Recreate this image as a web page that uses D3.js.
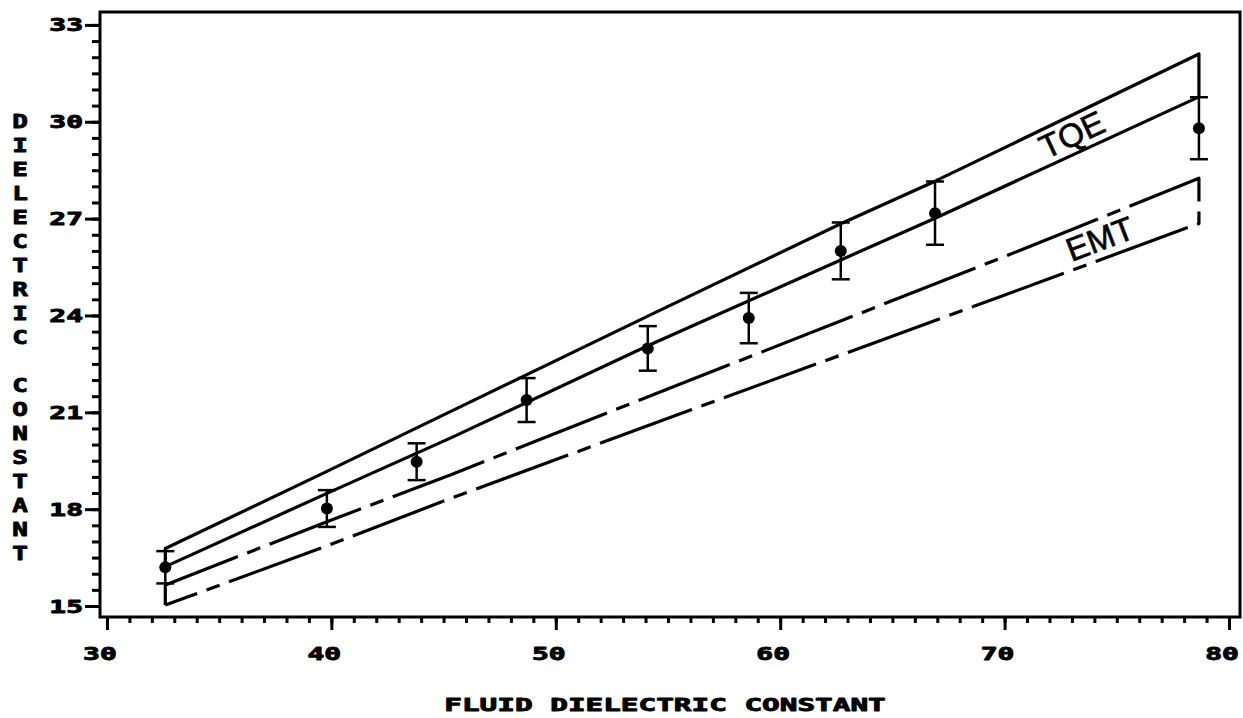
<!DOCTYPE html>
<html>
<head>
<meta charset="utf-8">
<script src="https://cdn.jsdelivr.net/npm/d3@7"></script>
<style>
  body { margin: 0; background: #fff; }
  svg { display: block; }
  .plotfont { font-family: "DejaVu Sans Mono", monospace; font-weight: bold; fill: #000;
              stroke: #000; stroke-width: 0.9; stroke-linejoin: round; }
</style>
</head>
<body>
<svg id="chart" width="1243" height="718"></svg>
<script>
// Measured dielectric constant of the saturated sample vs. fluid dielectric constant
const fluidEps    = [32.6, 39.8, 43.8, 48.7, 54.1, 58.6, 62.7, 66.9, 78.66];
const measuredEps = [16.2, 18.02, 19.47, 21.38, 22.98, 23.92, 26.0, 27.17, 29.8];
const measuredErr = [0.5, 0.57, 0.57, 0.68, 0.69, 0.78, 0.88, 0.98, 0.96];

// TQE prediction band (upper and lower bounds)
const tqeX     = [32.6, 39.8, 45.3, 54.1, 62.7, 66.9, 78.66];
const tqeUpper = [16.78, 19.17, 21.02, 23.98, 26.84, 28.16, 32.1];
const tqeLower = [16.22, 18.49, 20.20, 23.06, 25.72, 27.01, 30.77];

// EMT prediction band (upper and lower bounds)
const emtX     = [32.6, 39.8, 45.3, 56.0, 69.8, 78.66];
const emtUpper = [15.65, 17.61, 19.06, 22.0, 25.77, 28.25];
const emtLower = [15.03, 16.86, 18.33, 21.07, 24.58, 26.85];

// Axis ticks and labels
const xMajorTicks = [30, 40, 50, 60, 70, 80];
const yMajorTicks = [15, 18, 21, 24, 27, 30, 33];
const xTitle = "FLUID DIELECTRIC CONSTANT";
const yTitle = "DIELECTRIC CONSTANT";
const bandLabels = ["TQE", "EMT"];

const svg = d3.select("#chart");
const frame = { left: 100, top: 12, right: 1240, bottom: 617 };

const x = d3.scaleLinear().domain([29.69, 80.49]).range([frame.left, frame.right]);
const y = d3.scaleLinear().domain([14.66, 33.40]).range([frame.bottom, frame.top]);

// plot frame
svg.append("rect")
  .attr("x", frame.left).attr("y", frame.top)
  .attr("width", frame.right - frame.left).attr("height", frame.bottom - frame.top)
  .attr("fill", "none").attr("stroke", "#000").attr("stroke-width", 3);

// x axis ticks (minor every 1, major every 10)
const xMinor = d3.range(30, 81, 1);
const xAxisMinor = d3.axisBottom(x).tickValues(xMinor).tickSize(6).tickFormat("");
const xAxisMajor = d3.axisBottom(x).tickValues(xMajorTicks).tickSize(13).tickFormat("");
[xAxisMinor, xAxisMajor].forEach(ax => {
  const g = svg.append("g").attr("transform", `translate(0,${frame.bottom})`).call(ax);
  g.select(".domain").remove();
  g.selectAll("line").attr("stroke", "#000").attr("stroke-width", 3);
});

// y axis ticks (minor every 0.5, major every 3)
const yMinor = d3.range(15, 33.01, 0.5);
const yAxisMinor = d3.axisLeft(y).tickValues(yMinor).tickSize(8).tickFormat("");
const yAxisMajor = d3.axisLeft(y).tickValues(yMajorTicks).tickSize(15).tickFormat("");
[yAxisMinor, yAxisMajor].forEach(ax => {
  const g = svg.append("g").attr("transform", `translate(${frame.left},0)`).call(ax);
  g.select(".domain").remove();
  g.selectAll("line").attr("stroke", "#000").attr("stroke-width", 3);
});

// stretched plotter-style label helper
function wideText(parent, str, px, py, size, sx, anchor) {
  return parent.append("text")
    .attr("class", "plotfont")
    .attr("transform", `translate(${px},${py}) scale(${sx},1)`)
    .attr("font-size", size)
    .attr("text-anchor", anchor)
    .text(str);
}

// x tick labels
xMajorTicks.forEach(v => wideText(svg, String(v), x(v) - 7, 660, 17.5, 1.6, "middle"));
// y tick labels
yMajorTicks.forEach(v => wideText(svg, String(v), 83, y(v) + 6.5, 17.5, 1.6, "end"));

// axis titles
wideText(svg, xTitle, 665, 711, 18, 1.63, "middle");
yTitle.split("").forEach((ch, i) => {
  if (ch !== " ") wideText(svg, ch, 20, 128 + 24 * i, 20, 1.3, "middle");
});

// closed band outline: start at lower-left, up, along upper, down, back along lower
function bandPath(xs, upper, lower) {
  const pts = [[xs[0], lower[0]]];
  xs.forEach((v, i) => pts.push([v, upper[i]]));
  for (let i = xs.length - 1; i >= 0; i--) pts.push([xs[i], lower[i]]);
  return d3.line().x(d => x(d[0])).y(d => y(d[1]))(pts);
}

svg.append("path")
  .attr("d", bandPath(tqeX, tqeUpper, tqeLower))
  .attr("fill", "none").attr("stroke", "#000").attr("stroke-width", 3.2)
  .attr("stroke-linejoin", "round");

svg.append("path")
  .attr("d", bandPath(emtX, emtUpper, emtLower))
  .attr("fill", "none").attr("stroke", "#000").attr("stroke-width", 3.2)
  .attr("stroke-dasharray", "98,10,14,10")
  .attr("stroke-linejoin", "round");

// error bars and data points
const pts = fluidEps.map((v, i) => ({ x: v, y: measuredEps[i], e: measuredErr[i] }));
const eb = svg.append("g").attr("stroke", "#000").attr("stroke-width", 2.5);
pts.forEach(d => {
  eb.append("line").attr("x1", x(d.x)).attr("x2", x(d.x))
    .attr("y1", y(d.y - d.e)).attr("y2", y(d.y + d.e));
  [d.y - d.e, d.y + d.e].forEach(v => {
    eb.append("line").attr("x1", x(d.x) - 9).attr("x2", x(d.x) + 9)
      .attr("y1", y(v)).attr("y2", y(v));
  });
});
svg.append("g").selectAll("circle").data(pts).join("circle")
  .attr("cx", d => x(d.x)).attr("cy", d => y(d.y)).attr("r", 6).attr("fill", "#000");

// band labels, rotated along each band
function bandAngle(xs, upper, lower) {
  const n = xs.length - 1;
  const a0 = (upper[0] + lower[0]) / 2, a1 = (upper[n] + lower[n]) / 2;
  const dx = x(xs[n]) - x(xs[0]), dy = y(a1) - y(a0);
  return Math.atan2(dy, dx) * 180 / Math.PI;
}
const labelPos = [[73.0, 29.6, bandAngle(tqeX, tqeUpper, tqeLower)],
                  [74.25, 26.37, bandAngle(emtX, emtUpper, emtLower)]];
bandLabels.forEach((t, i) => {
  const [lx, ly, ang] = labelPos[i];
  svg.append("text")
    .attr("transform", `translate(${x(lx)},${y(ly)}) rotate(${ang})`)
    .attr("text-anchor", "middle").attr("dominant-baseline", "central")
    .attr("font-family", "Liberation Sans, Arial, sans-serif")
    .attr("font-size", 33).attr("fill", "#000")
    .attr("stroke", "#000").attr("stroke-width", 0.6)
    .text(t);
});
</script>
</body>
</html>
